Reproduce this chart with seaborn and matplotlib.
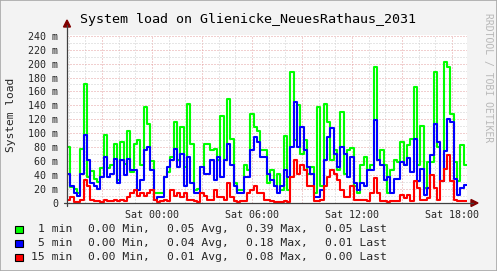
import matplotlib
matplotlib.use('Agg')
import matplotlib.pyplot as plt
import seaborn as sns
import numpy as np
import pandas as pd
from matplotlib.ticker import MultipleLocator, FuncFormatter
from matplotlib.patches import Rectangle

# ---------------- data (values in milli-load) ----------------
start_hour = -5.1      # hours relative to Sat 00:00
step_hours = 0.2
end_hour = 18.9

load_1min = [81, 23, 20, 14, 77, 170, 38, 46, 35, 30, 50, 98, 50, 55, 84, 33, 88, 56, 104, 44, 85, 90, 55, 138, 113,
             60, 14, 14, 14, 38, 45, 66, 116, 61, 109, 52, 142, 85, 18, 20, 52, 85, 84, 76, 78, 61, 125, 61, 149,
             92, 28, 18, 18, 55, 47, 128, 109, 104, 76, 76, 28, 47, 24, 42, 18, 96, 18, 188, 90, 140, 71, 90, 42, 52,
             14, 137, 24, 142, 116, 61, 76, 47, 130, 42, 76, 79, 24, 14, 55, 66, 47, 55, 195, 61, 76, 55, 14, 47, 61,
             59, 88, 54, 83, 92, 166, 54, 111, 21, 59, 59, 188, 81, 31, 202, 195, 128, 59, 31, 83, 54]
load_5min = [42, 24, 14, 10, 42, 98, 61, 28, 24, 20, 38, 66, 38, 42, 63, 28, 61, 40, 63, 47, 47, 18, 33, 76, 80,
             47, 5, 9, 9, 38, 52, 61, 78, 52, 71, 24, 66, 28, 14, 14, 52, 42, 42, 61, 33, 66, 38, 61, 85,
             55, 24, 14, 14, 38, 38, 76, 95, 88, 66, 66, 42, 33, 24, 14, 24, 47, 38, 80, 145, 80, 109, 76, 52, 42,
             9, 9, 18, 61, 95, 107, 71, 52, 80, 71, 38, 66, 28, 18, 28, 24, 47, 47, 119, 61, 55, 33, 38, 14, 35,
             35, 59, 54, 64, 45, 92, 31, 49, 12, 21, 69, 114, 88, 31, 74, 121, 116, 35, 12, 21, 26]
load_15min = [5, 9, 2, 2, 5, 33, 24, 5, 3, 3, 2, 5, 3, 3, 4, 3, 5, 3, 8, 14, 18, 10, 14, 10, 14,
              18, 4, 2, 3, 5, 3, 18, 10, 14, 8, 14, 5, 4, 3, 2, 14, 10, 5, 4, 18, 8, 8, 5, 28,
              9, 3, 2, 3, 3, 14, 18, 24, 14, 14, 5, 5, 3, 2, 2, 2, 3, 2, 38, 61, 42, 55, 47, 24, 24,
              3, 3, 5, 24, 38, 47, 42, 33, 18, 9, 9, 24, 5, 5, 4, 5, 3, 14, 36, 14, 3, 3, 2, 3, 3,
              3, 12, 7, 12, 3, 31, 21, 5, 5, 7, 40, 21, 5, 31, 49, 69, 31, 5, 3, 3, 3]

series_names = ['1 min', '5 min', '15 min']
series_colors = ['#00FF00', '#0000FF', '#FF0000']
stat_min = ['0.00', '0.00', '0.00']
stat_avg = ['0.05', '0.04', '0.01']
stat_max = ['0.39', '0.18', '0.08']
stat_last = ['0.05', '0.01', '0.00']
ytick_values = list(range(0, 241, 20))
xtick_hours = [0, 6, 12, 18]
xtick_labels = ['Sat 00:00', 'Sat 06:00', 'Sat 12:00', 'Sat 18:00']
title = 'System load on Glienicke_NeuesRathaus_2031'

# ---------------- build table ----------------
frames = []
for name, vals in zip(series_names, [load_1min, load_5min, load_15min]):
    t = start_hour + step_hours * np.arange(len(vals))
    t = np.append(t, end_hour)
    v = np.append(np.array(vals, dtype=float), vals[-1])
    frames.append(pd.DataFrame({'t': t, 'v': v, 'series': name}))
df = pd.concat(frames, ignore_index=True)

# ---------------- figure ----------------
W, H, DPI = 497, 271, 100
sns.set_style('white')
plt.rcParams['font.family'] = ['DejaVu Sans Mono', 'DejaVu Sans']

fig = plt.figure(figsize=(W / DPI, H / DPI), dpi=DPI, facecolor='#F3F3F3')
fx = lambda px: px / W
fy = lambda py: 1 - py / H

X0, X1, Y0, Y1 = 67, 467, 203, 35
ax = fig.add_axes([fx(X0), fy(Y0), (X1 - X0) / W, (Y0 - Y1) / H])
ax.set_facecolor('white')

sns.lineplot(data=df, x='t', y='v', hue='series', hue_order=series_names,
             palette=dict(zip(series_names, series_colors)), estimator=None,
             drawstyle='steps-post', linewidth=1.5, legend=False, ax=ax, zorder=3)

ax.set_xlim(start_hour, end_hour)
ax.set_ylim(0, 241)

# grid
ax.yaxis.set_major_locator(MultipleLocator(20))
ax.yaxis.set_minor_locator(MultipleLocator(10))
ax.xaxis.set_major_locator(MultipleLocator(3))
ax.xaxis.set_minor_locator(MultipleLocator(1))
ax.set_axisbelow(True)
ax.grid(which='minor', color='#CFCFCF', linestyle=(0, (1, 2)), linewidth=0.72)
ax.grid(which='major', color='#E4A0A0', linestyle=(0, (1, 2)), linewidth=0.72)

ax.yaxis.set_major_formatter(FuncFormatter(lambda v, p: '0' if round(v) == 0 else f'{int(round(v))} m'))
lab = dict(zip(xtick_hours, xtick_labels))
ax.xaxis.set_major_formatter(FuncFormatter(lambda v, p: lab.get(int(round(v)), '') if abs(v - round(v)) < 1e-6 else ''))
ax.tick_params(axis='y', which='major', length=2, direction='out', pad=4.5, labelsize=7.2, color='#404040')
ax.tick_params(axis='x', which='major', length=2, direction='out', pad=3, labelsize=7.2, color='#404040')
ax.tick_params(which='minor', length=0)
ax.set_xlabel('')
ax.set_ylabel('')
for s in ax.spines.values():
    s.set_visible(False)

# axes lines with arrows
axis_col = '#404040'
arrow_col = '#800000'
fig.add_artist(plt.Line2D([fx(X0), fx(X0)], [fy(Y0 + 3), fy(25)], transform=fig.transFigure, color=axis_col, lw=0.9))
fig.add_artist(plt.Line2D([fx(X0 - 3), fx(473)], [fy(Y0), fy(Y0)], transform=fig.transFigure, color=axis_col, lw=0.9))
fig.add_artist(plt.Polygon([[fx(X0 - 3.5), fy(27)], [fx(X0 + 3.5), fy(27)], [fx(X0), fy(20)]],
                           closed=True, transform=fig.transFigure, color=arrow_col))
fig.add_artist(plt.Polygon([[fx(471), fy(Y0 - 3.5)], [fx(471), fy(Y0 + 3.5)], [fx(478), fy(Y0)]],
                           closed=True, transform=fig.transFigure, color=arrow_col))

# title and labels
fig.text(fx(248), fy(19.5), title, ha='center', va='center', fontsize=9.6, color='black')
fig.text(fx(11), fy(115), 'System load', rotation=90, ha='center', va='center', fontsize=8.1)
fig.text(fx(488), fy(78), 'RRDTOOL / TOBI OETIKER', rotation=-90, ha='center', va='center',
         fontsize=7.0, color='#B8B8B8')

# legend
rows_y = [229, 243, 257]
cols_x = [88, 167, 246, 325]
for name, col, mn, av, mx, ls, yy in zip(series_names, series_colors, stat_min, stat_avg, stat_max, stat_last, rows_y):
    fig.add_artist(Rectangle((fx(15), fy(yy + 4)), 7.5 / W, 7.5 / H, transform=fig.transFigure,
                             facecolor=col, edgecolor='black', linewidth=0.8))
    fig.text(fx(72), fy(yy), name, ha='right', va='center', fontsize=8.2)
    for xx, txt in zip(cols_x, [f'{mn} Min,', f'{av} Avg,', f'{mx} Max,', f'{ls} Last']):
        fig.text(fx(xx), fy(yy), txt, ha='left', va='center', fontsize=8.2)

# frame
fig.add_artist(Rectangle((0, 0), 1, 1, transform=fig.transFigure, fill=False, edgecolor='#A8A8A8', linewidth=1.2))

fig.savefig('out.png', dpi=DPI, facecolor=fig.get_facecolor())
